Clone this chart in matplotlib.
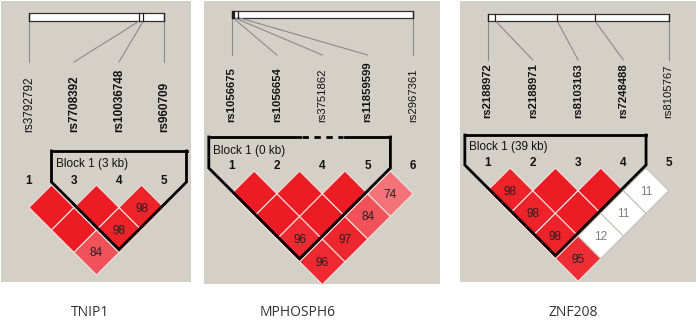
import matplotlib
matplotlib.use("Agg")
import matplotlib.pyplot as plt
from matplotlib.patches import Polygon, Rectangle
import numpy as np

# ---------------- data ----------------
gene_names = ["TNIP1", "MPHOSPH6", "ZNF208"]

tnip1_snps = ["rs3792792", "rs7708392", "rs10036748", "rs960709"]
tnip1_bold = [False, True, True, True]
tnip1_numbers = ["1", "3", "4", "5"]
tnip1_pos = [0.0, 0.818, 0.847, 1.0]          # relative physical position on bar
tnip1_ld = [[100, 100, 84], [100, 98], [98]]  # D' (x100) of marker i with markers j>i
tnip1_block = (1, 3, "Block 1 (3 kb)")

mphosph6_snps = ["rs1056675", "rs1056654", "rs3751862", "rs11859599", "rs2967361"]
mphosph6_bold = [True, True, False, True, False]
mphosph6_numbers = ["1", "2", "4", "5", "6"]
mphosph6_pos = [0.0, 0.006, 0.012, 0.035, 1.0]
mphosph6_ld = [[100, 100, 96, 96], [100, 100, 97], [100, 84], [74]]
mphosph6_block = (0, 3, "Block 1 (0 kb)")

znf208_snps = ["rs2188972", "rs2188971", "rs8103163", "rs7248488", "rs8105767"]
znf208_bold = [True, True, True, True, False]
znf208_numbers = ["1", "2", "3", "4", "5"]
znf208_pos = [0.0, 0.044, 0.385, 0.593, 1.0]
znf208_ld = [[98, 98, 98, 95], [100, 100, 12], [100, 11], [11]]
znf208_block = (0, 3, "Block 1 (39 kb)")

# ---------------- layout ----------------
W, H = 700, 329
fig = plt.figure(figsize=(7.0, 3.29), dpi=100)
ax = fig.add_axes([0, 0, 1, 1])
ax.set_xlim(0, W)
ax.set_ylim(H, 0)
ax.axis("off")

BG = "#d4d0c8"
RED = np.array([237, 28, 36]) / 255.0
WHITE = np.array([255, 255, 255]) / 255.0
FONT = ["Liberation Sans", "DejaVu Sans"]


def cell_color(v):
    if v < 50:
        return "white"
    t = (100 - v) / 68.0
    return tuple(RED + (WHITE - RED) * t)


panels = [
    dict(snps=tnip1_snps, bold=tnip1_bold, nums=tnip1_numbers, pos=tnip1_pos, ld=tnip1_ld,
         block=tnip1_block, gene=gene_names[0],
         bg=(1, 1, 191, 282), x0=29, sp=45.0, bar=(13, 21), line_end=62, lab_bottom=132,
         lab_fs=8.5, dtop=185, num_y=181.5, btop=151, blab_y=164, gene_x=90, dash=None),
    dict(snps=mphosph6_snps, bold=mphosph6_bold, nums=mphosph6_numbers, pos=mphosph6_pos,
         ld=mphosph6_ld, block=mphosph6_block, gene=gene_names[1],
         bg=(204, 1, 440, 284), x0=231.5, sp=45.4, bar=(10.5, 17.5), line_end=55, lab_bottom=122,
         lab_fs=8.1, dtop=171, num_y=166, btop=137, blab_y=151, gene_x=298, dash=2),
    dict(snps=znf208_snps, bold=znf208_bold, nums=znf208_numbers, pos=znf208_pos, ld=znf208_ld,
         block=znf208_block, gene=gene_names[2],
         bg=(460, 1, 696, 282), x0=487.5, sp=45.3, bar=(14, 21), line_end=60, lab_bottom=118,
         lab_fs=8.1, dtop=168, num_y=163, btop=135, blab_y=147, gene_x=573, dash=None),
]

for p in panels:
    x1, y1, x2, y2 = p["bg"]
    ax.add_patch(Rectangle((x1, y1), x2 - x1, y2 - y1, facecolor=BG, edgecolor="none", zorder=0))

    n = len(p["snps"])
    xs = p["x0"] + p["sp"] * np.arange(n)
    h = p["sp"] / 2.0

    # physical map bar
    bx0, bx1 = xs[0], xs[-1]
    by0, by1 = p["bar"]
    ax.add_patch(Rectangle((bx0, by0), bx1 - bx0, by1 - by0, facecolor="white",
                           edgecolor="#303030", lw=0.9, zorder=2))
    for k in range(n):
        px = bx0 + p["pos"][k] * (bx1 - bx0)
        ax.plot([px, px], [by0, by1], color="#202020", lw=0.9, zorder=3)
        ax.plot([px, xs[k]], [by1, p["line_end"]], color="#8a8a8a", lw=0.8, zorder=2)
        ax.text(xs[k], p["lab_bottom"], p["snps"][k], rotation=90, ha="center", va="bottom",
                fontsize=p["lab_fs"], fontweight="bold" if p["bold"][k] else "normal",
                family=FONT, color="#111111")
        ax.text(xs[k], p["num_y"], p["nums"][k], ha="center", va="center",
                fontsize=8.5, fontweight="bold", family=FONT, color="#111111")

    # LD diamonds
    for i in range(n - 1):
        for jj, v in enumerate(p["ld"][i]):
            j = i + 1 + jj
            cx = (xs[i] + xs[j]) / 2.0
            cy = p["dtop"] + (j - i) * h
            col = cell_color(v)
            poly = Polygon([(cx, cy - h), (cx + h, cy), (cx, cy + h), (cx - h, cy)],
                           closed=True, facecolor=col,
                           edgecolor="#ece4e0" if col != "white" else "#c8c4bc",
                           lw=0.8, zorder=3)
            ax.add_patch(poly)
            if v < 100:
                ax.text(cx, cy + 1, str(v), ha="center", va="center", fontsize=8.5,
                        family=FONT, color="#222222" if col != "white" else "#808080", zorder=5)

    # block outline
    b0, b1, blabel = p["block"]
    lx = xs[b0] - h
    rx = xs[b1] + h
    mx = (lx + rx) / 2.0
    yc = p["dtop"] - 3
    yb = yc + (rx - lx) / 2.0
    ax.plot([lx, lx, mx, rx, rx], [p["btop"], yc, yb, yc, p["btop"]], color="black",
            lw=2.0, zorder=6, solid_joinstyle="miter")
    if p["dash"] is None:
        ax.plot([lx, rx], [p["btop"], p["btop"]], color="black", lw=2.0, zorder=6)
    else:
        d = p["dash"]
        dl = (xs[d - 1] + xs[d]) / 2.0
        dr = (xs[d] + xs[d + 1]) / 2.0
        ax.plot([lx, dl], [p["btop"], p["btop"]], color="black", lw=2.0, zorder=6)
        ax.plot([dr, rx], [p["btop"], p["btop"]], color="black", lw=2.0, zorder=6)
        ax.plot([dl + 2, dr - 2], [p["btop"], p["btop"]], color="black", lw=2.0, zorder=6,
                linestyle=(0, (2.3, 2.0)), dash_capstyle="butt")
    ax.text(lx + 4, p["blab_y"], blabel, ha="left", va="center", fontsize=8.5,
            family=FONT, color="#111111", zorder=7)

    # gene name
    ax.text(p["gene_x"], 312, p["gene"], ha="center", va="center", fontsize=10,
            family=["Open Sans", "DejaVu Sans"], color="#333333")

fig.savefig("out.png", dpi=100, facecolor="white")
